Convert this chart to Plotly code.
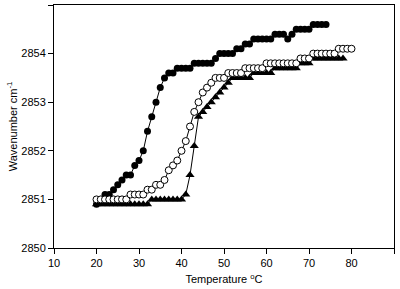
import plotly.graph_objects as go

# Filled circles
temp_filled = list(range(20, 75))
wn_filled = [2850.9, 2851.0, 2851.1, 2851.1, 2851.2, 2851.3, 2851.4, 2851.5, 2851.5, 2851.7,
             2851.8, 2852.0, 2852.4, 2852.7, 2853.0, 2853.3, 2853.5, 2853.6, 2853.6, 2853.7,
             2853.7, 2853.7, 2853.7, 2853.8, 2853.8, 2853.8, 2853.8, 2853.8, 2853.9, 2854.0,
             2854.0, 2854.0, 2854.0, 2854.1, 2854.1, 2854.2, 2854.2, 2854.3, 2854.3, 2854.3,
             2854.3, 2854.3, 2854.4, 2854.4, 2854.4, 2854.3, 2854.4, 2854.5, 2854.5, 2854.5,
             2854.5, 2854.6, 2854.6, 2854.6, 2854.6]

# Open circles
temp_open = list(range(20, 81))
wn_open = [2851.0, 2851.0, 2851.0, 2851.0, 2851.0, 2851.0, 2851.0, 2851.0, 2851.1, 2851.1,
           2851.1, 2851.1, 2851.2, 2851.2, 2851.3, 2851.3, 2851.4, 2851.6, 2851.7, 2851.8,
           2852.0, 2852.2, 2852.5, 2852.8, 2853.0, 2853.2, 2853.3, 2853.4, 2853.5, 2853.5,
           2853.5, 2853.6, 2853.6, 2853.6, 2853.6, 2853.7, 2853.7, 2853.7, 2853.7, 2853.7,
           2853.8, 2853.8, 2853.8, 2853.8, 2853.8, 2853.8, 2853.8, 2853.8, 2853.9, 2853.9,
           2853.9, 2854.0, 2854.0, 2854.0, 2854.0, 2854.0, 2854.0, 2854.1, 2854.1, 2854.1,
           2854.1]

# Filled triangles
temp_tri = list(range(20, 79))
wn_tri = [2850.9, 2850.9, 2850.9, 2850.9, 2850.9, 2850.9, 2850.9, 2850.9, 2850.9, 2850.9,
          2850.9, 2850.9, 2850.9, 2851.0, 2851.0, 2851.0, 2851.0, 2851.0, 2851.0, 2851.0,
          2851.0, 2851.1, 2851.5, 2852.1, 2852.7, 2852.8, 2852.9, 2853.0, 2853.1, 2853.2,
          2853.3, 2853.4, 2853.5, 2853.5, 2853.5, 2853.5, 2853.5, 2853.6, 2853.6, 2853.6,
          2853.6, 2853.6, 2853.7, 2853.7, 2853.7, 2853.7, 2853.7, 2853.7, 2853.8, 2853.8,
          2853.8, 2853.9, 2853.9, 2853.9, 2853.9, 2853.9, 2853.9, 2853.9, 2853.9]

x_ticks = [10, 20, 30, 40, 50, 60, 70, 80, 90]
y_ticks = [2850, 2851, 2852, 2853, 2854, 2855]

fig = go.Figure()
fig.add_trace(go.Scatter(x=temp_tri, y=wn_tri, mode="lines+markers",
                         line=dict(color="black", width=1),
                         marker=dict(symbol="triangle-up", size=8, color="black")))
fig.add_trace(go.Scatter(x=temp_filled, y=wn_filled, mode="lines+markers",
                         line=dict(color="black", width=1),
                         marker=dict(symbol="circle", size=7, color="black")))
fig.add_trace(go.Scatter(x=temp_open, y=wn_open, mode="lines+markers",
                         line=dict(color="black", width=1),
                         marker=dict(symbol="circle", size=7, color="white",
                                     line=dict(color="black", width=1))))

font = dict(family="Liberation Sans, Arial, sans-serif", size=11, color="black")
fig.update_layout(
    width=400, height=289,
    margin=dict(l=54, r=6, t=5, b=41),
    paper_bgcolor="white", plot_bgcolor="white",
    showlegend=False,
    font=font,
    xaxis=dict(range=[10, 90], tickvals=x_ticks, ticktext=[str(v) for v in x_ticks],
               ticks="outside", ticklen=5, tickwidth=1, tickcolor="black",
               showline=True, linecolor="black", linewidth=1, mirror=True,
               showgrid=False, zeroline=False, automargin=False,
               title=dict(text="Temperature <sup>o</sup>C", font=font, standoff=7)),
    yaxis=dict(range=[2850, 2855], tickvals=y_ticks, ticktext=[str(v) for v in y_ticks],
               ticks="outside", ticklen=5, tickwidth=1, tickcolor="black",
               showline=True, linecolor="black", linewidth=1, mirror=True,
               showgrid=False, zeroline=False, automargin=False,
               title=dict(text="Wavenumber cm<sup>-1</sup>", font=font, standoff=1)),
)
fig.write_html("out.html", config={"displayModeBar": False},
               post_script="document.body.style.margin='0';document.body.style.padding='0';")
